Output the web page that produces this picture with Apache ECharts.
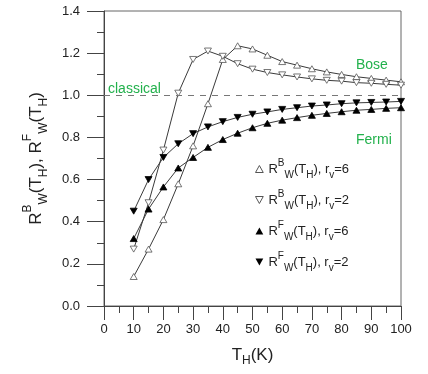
<!DOCTYPE html>
<html>
<head>
<meta charset="utf-8">
<script src="https://cdn.jsdelivr.net/npm/echarts@6/dist/echarts.min.js"></script>
<style>
    html, body { margin: 0; padding: 0; background: #fff; }
    #chart { width: 428px; height: 374px; }
</style>
</head>
<body>
<div id="chart"></div>
<script>
// temperaturas T_H (K)
var temps = [10, 15, 20, 25, 30, 35, 40, 45, 50, 55, 60, 65, 70, 75, 80, 85, 90, 95, 100];

// Bose, r_v = 6 (triangulo abierto)
var boseRv6 = [0.14, 0.27, 0.41, 0.58, 0.76, 0.96, 1.17, 1.235, 1.22, 1.19, 1.16, 1.143, 1.126, 1.111, 1.099, 1.088, 1.08, 1.072, 1.064];
// Bose, r_v = 2 (triangulo abierto invertido)
var boseRv2 = [0.27, 0.49, 0.74, 1.01, 1.17, 1.21, 1.185, 1.15, 1.124, 1.108, 1.097, 1.087, 1.078, 1.071, 1.067, 1.06, 1.057, 1.052, 1.048];
// Fermi, r_v = 6 (triangulo lleno)
var fermiRv6 = [0.32, 0.46, 0.565, 0.655, 0.705, 0.753, 0.79, 0.82, 0.846, 0.867, 0.882, 0.894, 0.905, 0.914, 0.922, 0.929, 0.933, 0.938, 0.941];
// Fermi, r_v = 2 (triangulo lleno invertido)
var fermiRv2 = [0.45, 0.60, 0.705, 0.77, 0.818, 0.85, 0.875, 0.895, 0.91, 0.921, 0.933, 0.941, 0.949, 0.954, 0.96, 0.964, 0.966, 0.968, 0.971];

var xTicks = [0, 10, 20, 30, 40, 50, 60, 70, 80, 90, 100];
var yTicks = [0.0, 0.2, 0.4, 0.6, 0.8, 1.0, 1.2, 1.4];
var classicalLevel = 1.0;

var font = 'Liberation Sans, Arial, sans-serif';
var green = '#22b14c';
var downTri = 'path://M0,0L10,0L5,9Z';
var upTri = 'path://M5,0L10,9L0,9Z';

function pairs(vals) {
    return temps.map(function (t, i) { return [t, vals[i]]; });
}

function serie(name, vals, filled, down) {
    return {
        name: name,
        type: 'line',
        data: pairs(vals),
        symbol: 'triangle',
        symbolSize: [7, 6],
        symbolRotate: down ? 180 : 0,
        lineStyle: { color: '#3a3a3a', width: 1 },
        itemStyle: {
            color: filled ? '#000' : '#fff',
            borderColor: filled ? '#000' : '#555',
            borderWidth: 0.8
        },
        z: filled ? 3 : 2
    };
}

var supTxt = { fontSize: 10, verticalAlign: 'top', fontFamily: font, color: '#222' };
var subTxt = { fontSize: 10, verticalAlign: 'bottom', fontFamily: font, color: '#222' };
var legendRich = {
    n: { fontSize: 13, fontFamily: font, color: '#222', lineHeight: 22, verticalAlign: 'middle' },
    sup: supTxt,
    sub: subTxt
};

function legendText(kind, rv) {
    return '{n|R}{sup|' + kind + '}{sub|W}{n|(T}{sub|H}{n|), r}{sub|v}{n|=' + rv + '}';
}

var labels = {
    bose6: legendText('B', 6),
    bose2: legendText('B', 2),
    fermi6: legendText('F', 6),
    fermi2: legendText('F', 2)
};

var chart = echarts.init(document.getElementById('chart'));

var series = [
    serie('bose6', boseRv6, false, false),
    serie('bose2', boseRv2, false, true),
    serie('fermi6', fermiRv6, true, false),
    serie('fermi2', fermiRv2, true, true)
];

series[0].markLine = {
    silent: true,
    symbol: 'none',
    lineStyle: { color: '#777', type: [6, 6], width: 1 },
    label: {
        show: true,
        position: 'insideStartTop',
        formatter: 'classical',
        color: green,
        fontSize: 14,
        fontFamily: font,
        distance: [4, -1]
    },
    data: [{ yAxis: classicalLevel }]
};

chart.setOption({
    animation: false,
    grid: {
        left: 104, right: 27, top: 11, bottom: 68,
        show: true, borderColor: '#666', borderWidth: 1
    },
    legend: {
        orient: 'vertical',
        left: 250,
        top: 153,
        itemWidth: 8,
        itemHeight: 7,
        itemGap: 9,
        data: [
            { name: 'bose6', icon: upTri, itemStyle: { color: '#fff', borderColor: '#555', borderWidth: 1 } },
            { name: 'bose2', icon: downTri, itemStyle: { color: '#fff', borderColor: '#555', borderWidth: 1 } },
            { name: 'fermi6', icon: upTri, itemStyle: { color: '#000', borderColor: '#000', borderWidth: 0 } },
            { name: 'fermi2', icon: downTri, itemStyle: { color: '#000', borderColor: '#000', borderWidth: 0 } }
        ],
        formatter: function (n) { return labels[n]; },
        textStyle: { rich: legendRich }
    },
    xAxis: {
        type: 'value',
        min: 0,
        max: 100,
        interval: 10,
        name: '{n|T}{s|H}{n|(K)}',
        nameLocation: 'middle',
        nameGap: 37,
        nameTextStyle: {
            rich: {
                n: { fontSize: 17, fontFamily: font, color: '#222', verticalAlign: 'middle', lineHeight: 24 },
                s: { fontSize: 12, fontFamily: font, color: '#222', verticalAlign: 'bottom' }
            }
        },
        axisLine: { lineStyle: { color: '#444' } },
        axisTick: { inside: false, length: 14, lineStyle: { color: '#444' } },
        minorTick: { show: true, splitNumber: 2, length: 7, lineStyle: { color: '#444' } },
        axisLabel: {
            color: '#222', fontSize: 13, fontFamily: font, margin: 17,
            customValues: xTicks
        },
        splitLine: { show: false }
    },
    yAxis: {
        type: 'value',
        min: 0,
        max: 1.4,
        interval: 0.2,
        name: '{n|R}{sup|B}{sub|W}{n|(T}{sub|H}{n|), R}{sup|F}{sub|W}{n|(T}{sub|H}{n|)}',
        nameLocation: 'middle',
        nameRotate: 90,
        nameGap: 54,
        nameTextStyle: {
            rich: {
                n: { fontSize: 17, fontFamily: font, color: '#222', verticalAlign: 'middle', lineHeight: 28 },
                sup: { fontSize: 12, fontFamily: font, color: '#222', verticalAlign: 'top' },
                sub: { fontSize: 12, fontFamily: font, color: '#222', verticalAlign: 'bottom' }
            }
        },
        axisLine: { lineStyle: { color: '#444' } },
        axisTick: { inside: false, length: 17, lineStyle: { color: '#444' } },
        minorTick: { show: true, splitNumber: 2, length: 7, lineStyle: { color: '#444' } },
        axisLabel: {
            color: '#222', fontSize: 13, fontFamily: font, margin: 24,
            customValues: yTicks,
            formatter: function (v) { return v.toFixed(1); }
        },
        splitLine: { show: false }
    },
    graphic: [
        { type: 'text', left: 356, top: 58, style: { text: 'Bose', fill: green, font: '14px ' + font } },
        { type: 'text', left: 356, top: 133, style: { text: 'Fermi', fill: green, font: '14px ' + font } }
    ],
    series: series
});
</script>
</body>
</html>
